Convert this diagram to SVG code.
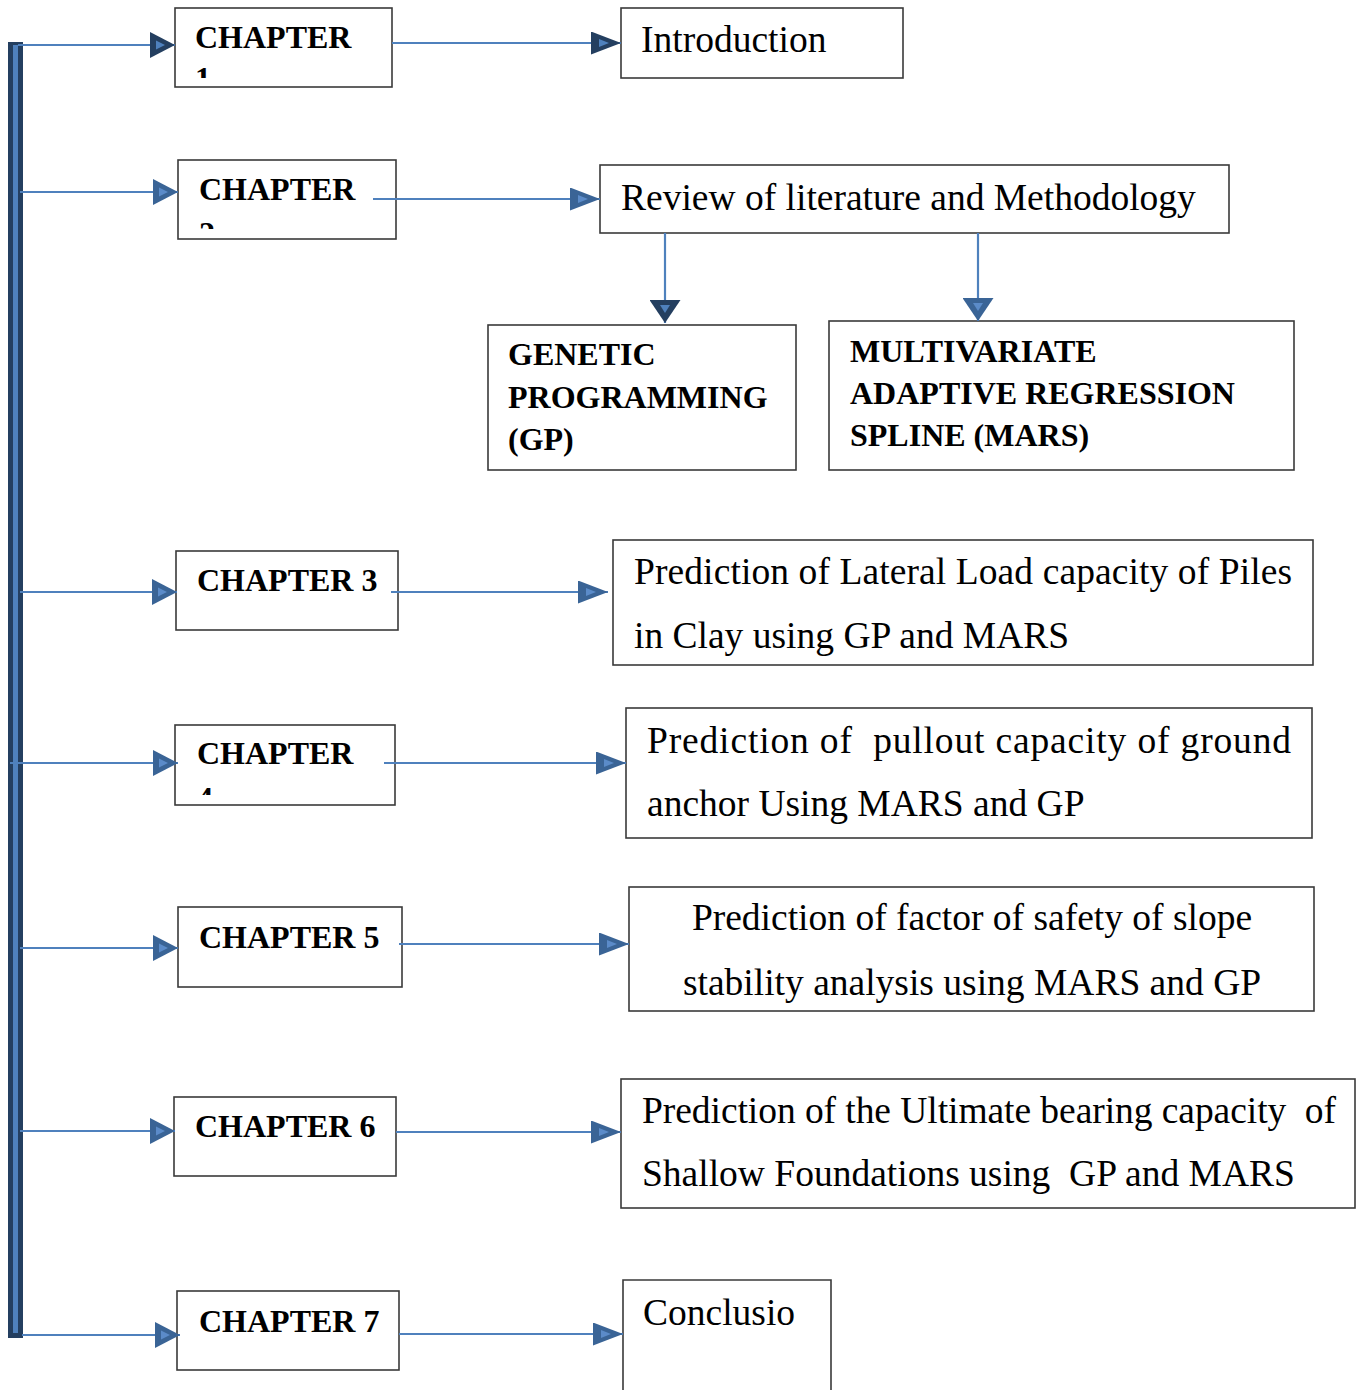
<svg xmlns="http://www.w3.org/2000/svg" width="1361" height="1390" viewBox="0 0 1361 1390">
  <style>
    .box { fill: #ffffff; stroke: #3a3a3a; stroke-width: 1.6; }
    .ch { font-family: "Liberation Serif", "Times New Roman", serif; font-weight: bold; font-size: 32px; fill: #000; }
    .hd { font-family: "Liberation Serif", "Times New Roman", serif; font-weight: bold; font-size: 32px; fill: #000; }
    .tx { font-family: "Liberation Serif", "Times New Roman", serif; font-size: 37.5px; fill: #000; }
    .ln { fill: none; stroke: #4F81BD; stroke-width: 2.2; }
  </style>
  <defs>
    <!-- arrowheads: darker outer triangle with a lighter inner triangle -->
    <marker id="headL" markerUnits="userSpaceOnUse" viewBox="0 0 25 26" refX="25" refY="13" markerWidth="25" markerHeight="26" orient="auto">
      <path d="M0,0 L25,13 L0,26 Z" fill="#3A6496"/>
      <path d="M6,8.5 L15,13 L6,17.5 Z" fill="#5B8BC9"/>
    </marker>
    <marker id="headLd" markerUnits="userSpaceOnUse" viewBox="0 0 25 26" refX="25" refY="13" markerWidth="25" markerHeight="26" orient="auto">
      <path d="M0,0 L25,13 L0,26 Z" fill="#243F60"/>
      <path d="M6,8.5 L15,13 L6,17.5 Z" fill="#4F81BD"/>
    </marker>
    <marker id="headR" markerUnits="userSpaceOnUse" viewBox="0 0 30 23" refX="30" refY="11.5" markerWidth="30" markerHeight="23" orient="auto">
      <path d="M0,0 L30,11.5 L0,23 Z" fill="#3A6496"/>
      <path d="M8,7.5 L18,11.5 L8,15.5 Z" fill="#5B8BC9"/>
    </marker>
    <marker id="headRd" markerUnits="userSpaceOnUse" viewBox="0 0 30 23" refX="30" refY="11.5" markerWidth="30" markerHeight="23" orient="auto">
      <path d="M0,0 L30,11.5 L0,23 Z" fill="#243F60"/>
      <path d="M8,7.5 L18,11.5 L8,15.5 Z" fill="#4F81BD"/>
    </marker>
    <marker id="headD" markerUnits="userSpaceOnUse" viewBox="0 0 23 31" refX="23" refY="15.5" markerWidth="23" markerHeight="31" orient="auto">
      <path d="M0,0 L23,15.5 L0,31 Z" fill="#3A6496"/>
      <path d="M5,10.5 L13,15.5 L5,20.5 Z" fill="#5B8BC9"/>
    </marker>
    <marker id="headDd" markerUnits="userSpaceOnUse" viewBox="0 0 23 31" refX="23" refY="15.5" markerWidth="23" markerHeight="31" orient="auto">
      <path d="M0,0 L23,15.5 L0,31 Z" fill="#243F60"/>
      <path d="M5,10.5 L13,15.5 L5,20.5 Z" fill="#4F81BD"/>
    </marker>
    <!-- text areas of the narrow chapter boxes, the second line is cut off -->
    <clipPath id="clip1"><rect x="175" y="8" width="217" height="70"/></clipPath>
    <clipPath id="clip2"><rect x="178" y="160" width="218" height="69"/></clipPath>
    <clipPath id="clip4"><rect x="175" y="725" width="220" height="70"/></clipPath>
  </defs>

  <rect width="1361" height="1390" fill="#ffffff"/>

  <!-- spine -->
  <g id="spine">
    <rect x="8" y="42" width="15" height="1296" fill="#243F60"/>
    <rect x="13" y="45" width="5" height="1288" fill="#4F81BD"/>
  </g>

  <g id="chapter1">
    <rect class="box" x="175" y="8" width="217" height="79"/>
    <text class="ch" x="195" y="48" clip-path="url(#clip1)"><tspan x="195" y="48">CHAPTER</tspan><tspan x="195" y="89">1</tspan></text>
  </g>
  <g id="introduction">
    <rect class="box" x="621" y="8" width="282" height="70"/>
    <text class="tx" x="641" y="52">Introduction</text>
  </g>

  <g id="chapter2">
    <rect class="box" x="178" y="160" width="218" height="79"/>
    <text class="ch" x="199" y="200" clip-path="url(#clip2)"><tspan x="199" y="200">CHAPTER</tspan><tspan x="199" y="244">2</tspan></text>
  </g>
  <g id="review">
    <rect class="box" x="600" y="165" width="629" height="68"/>
    <text class="tx" x="621" y="210">Review of literature and Methodology</text>
  </g>
  <g id="gp">
    <rect class="box" x="488" y="325" width="308" height="145"/>
    <text class="hd" x="508" y="365">GENETIC</text>
    <text class="hd" x="508" y="408">PROGRAMMING</text>
    <text class="hd" x="508" y="450">(GP)</text>
  </g>
  <g id="mars">
    <rect class="box" x="829" y="321" width="465" height="149"/>
    <text class="hd" x="850" y="362">MULTIVARIATE</text>
    <text class="hd" x="850" y="404">ADAPTIVE REGRESSION</text>
    <text class="hd" x="850" y="446">SPLINE (MARS)</text>
  </g>

  <g id="chapter3">
    <rect class="box" x="176" y="551" width="222" height="79"/>
    <text class="ch" x="197" y="591">CHAPTER 3</text>
  </g>
  <g id="lateral-load">
    <rect class="box" x="613" y="540" width="700" height="125"/>
    <text class="tx" x="634" y="584" textLength="658" lengthAdjust="spacing">Prediction of Lateral Load capacity of Piles</text>
    <text class="tx" x="634" y="648">in Clay using GP and MARS</text>
  </g>

  <g id="chapter4">
    <rect class="box" x="175" y="725" width="220" height="80"/>
    <text class="ch" x="197" y="764" clip-path="url(#clip4)"><tspan x="197" y="764">CHAPTER</tspan><tspan x="197" y="809">4</tspan></text>
  </g>
  <g id="pullout">
    <rect class="box" x="626" y="708" width="686" height="130"/>
    <text class="tx" x="647" y="753" textLength="644" lengthAdjust="spacing" xml:space="preserve">Prediction of  pullout capacity of ground</text>
    <text class="tx" x="647" y="816">anchor Using MARS and GP</text>
  </g>

  <g id="chapter5">
    <rect class="box" x="178" y="907" width="224" height="80"/>
    <text class="ch" x="199" y="948">CHAPTER 5</text>
  </g>
  <g id="slope">
    <rect class="box" x="629" y="887" width="685" height="124"/>
    <text class="tx" x="972" y="930" text-anchor="middle">Prediction of factor of safety of slope</text>
    <text class="tx" x="972" y="995" text-anchor="middle">stability analysis using MARS and GP</text>
  </g>

  <g id="chapter6">
    <rect class="box" x="174" y="1097" width="222" height="79"/>
    <text class="ch" x="195" y="1137">CHAPTER 6</text>
  </g>
  <g id="bearing">
    <rect class="box" x="621" y="1079" width="734" height="129"/>
    <text class="tx" x="642" y="1123" textLength="694" lengthAdjust="spacing" xml:space="preserve">Prediction of the Ultimate bearing capacity  of</text>
    <text class="tx" x="642" y="1186" xml:space="preserve">Shallow Foundations using  GP and MARS</text>
  </g>

  <g id="chapter7">
    <rect class="box" x="177" y="1291" width="222" height="79"/>
    <text class="ch" x="199" y="1332">CHAPTER 7</text>
  </g>
  <g id="conclusion">
    <path class="box" d="M623,1392 V1280 H831 V1392"/>
    <text class="tx" x="643" y="1325">Conclusio</text>
  </g>

  <!-- connectors drawn last: some start inside the chapter boxes -->
  <g id="connectors">
    <!-- spine to chapter boxes -->
    <path class="ln" d="M18,45 H175" marker-end="url(#headLd)"/>
    <path class="ln" d="M20,192 H178" marker-end="url(#headL)"/>
    <path class="ln" d="M20,592 H177" marker-end="url(#headL)"/>
    <path class="ln" d="M10,763 H178" marker-end="url(#headL)"/>
    <path class="ln" d="M20,948 H178" marker-end="url(#headL)"/>
    <path class="ln" d="M20,1131 H175" marker-end="url(#headL)"/>
    <path class="ln" d="M22,1335 H180" marker-end="url(#headL)"/>
    <!-- chapter boxes to topic boxes -->
    <path class="ln" d="M392,43 H621" marker-end="url(#headRd)"/>
    <path class="ln" d="M373,199 H600" marker-end="url(#headR)"/>
    <path class="ln" d="M391,592 H608" marker-end="url(#headR)"/>
    <path class="ln" d="M384,763 H626" marker-end="url(#headR)"/>
    <path class="ln" d="M399,944 H629" marker-end="url(#headR)"/>
    <path class="ln" d="M396,1132 H621" marker-end="url(#headR)"/>
    <path class="ln" d="M399,1334 H623" marker-end="url(#headR)"/>
    <!-- literature review to the two methods -->
    <path class="ln" d="M665,233 V323" marker-end="url(#headDd)"/>
    <path class="ln" d="M978,233 V321" marker-end="url(#headD)"/>
  </g>
</svg>
